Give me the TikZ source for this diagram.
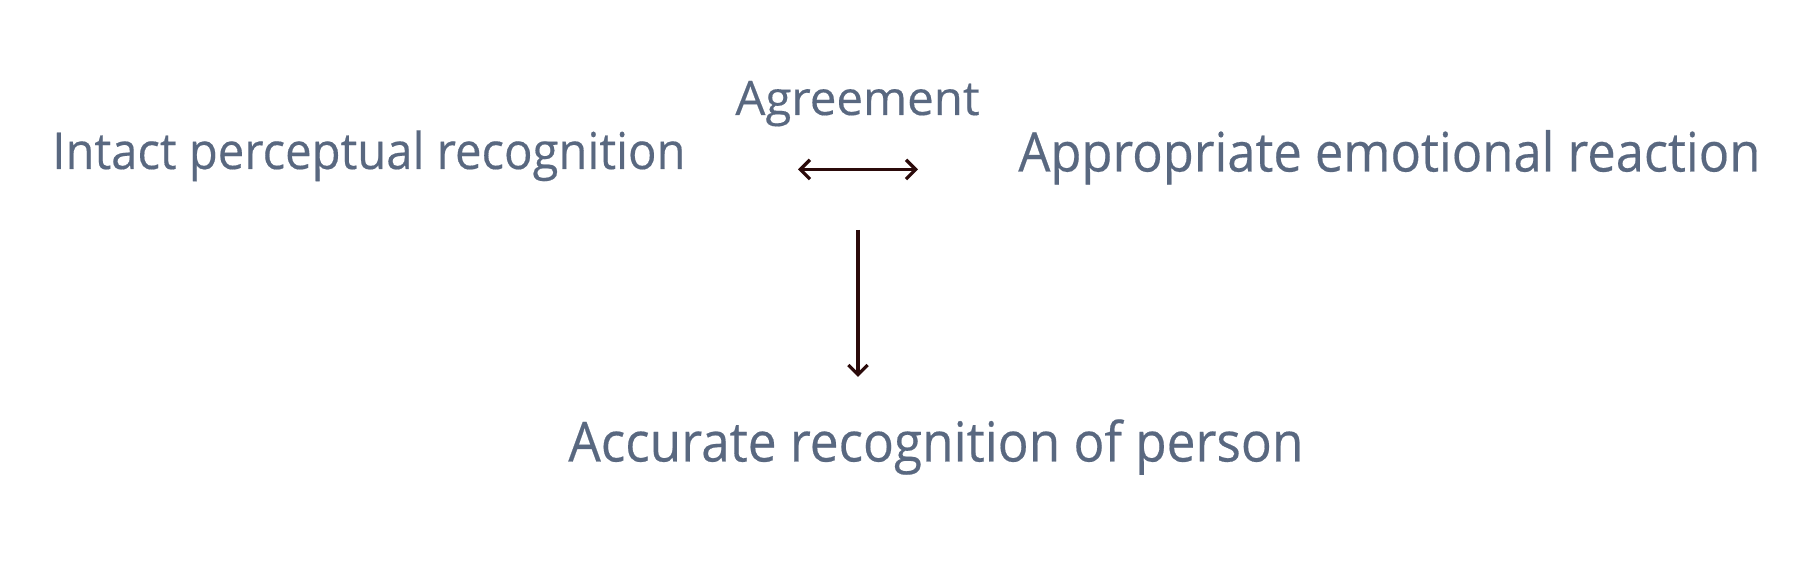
\documentclass[tikz,border=0pt]{standalone}
\usepackage{fontspec}
\setmainfont{Open Sans}[FakeBold=0.35]
\newfontfamily\narrowsans[FakeStretch=0.93,FakeBold=0.35]{Open Sans}
\usetikzlibrary{arrows,arrows.meta,positioning}
\definecolor{labelgrey}{HTML}{596880}
\definecolor{arrowbrown}{HTML}{2B0A0A}
\tikzset{
    concept/.style={
    anchor=base west,inner sep=0pt,text=labelgrey,font=\narrowsans\fontsize{31}{37}\selectfont
    },
    smallconcept/.style={
    anchor=base west,inner sep=0pt,text=labelgrey,font=\fontsize{27}{32}\selectfont
    },
    link/.style={
    draw=arrowbrown,line width=1.9pt,>={Straight Barb[length=5.5pt,width=11pt]}
    },
}
\begin{document}
\begin{tikzpicture}
   \useasboundingbox (0,0) rectangle (36.16,11.56);
   \node[concept,font=\narrowsans\fontsize{28.9}{34}\selectfont] (intact) at (1.04,8.18) {Intact perceptual recognition};
   \node[smallconcept] (agree) at (14.70,9.26) {Agreement};
   \node[concept] (emotion) at (20.36,8.13) {Appropriate emotional reaction};
   \node[concept,font=\narrowsans\fontsize{31.4}{37}\selectfont] (accurate) at (11.36,2.33) {Accurate recognition of person};
   \coordinate (lefttip) at (15.96,8.17);
   \coordinate (righttip) at (18.36,8.17);
   \coordinate (downstart) at (17.16,6.96);
   \coordinate (downtip) at (17.16,4.02);

  \path[link]
    (lefttip) edge[<->] (righttip)
    (downstart) edge[->] (downtip);
  \end{tikzpicture}
\end{document}
